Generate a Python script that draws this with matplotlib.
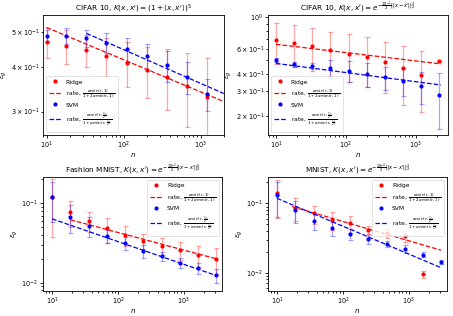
import numpy as np
import matplotlib
matplotlib.use("Agg")
import matplotlib.pyplot as plt

# sample sizes
n_cifar = [10, 18, 33, 60, 110, 200, 365, 665, 1210, 2200]
n_mnist = [10, 19, 36, 68, 128, 243, 460, 870, 1640, 3100]

# CIFAR 10, polynomial kernel
cp_ridge = [0.469, 0.458, 0.446, 0.429, 0.411, 0.392, 0.376, 0.354, 0.329]
cp_ridge_err = [0.046, 0.050, 0.045, 0.052, 0.060, 0.064, 0.072, 0.083, 0.094]
cp_svm = [0.490, 0.490, 0.481, 0.468, 0.448, 0.429, 0.404, 0.374, 0.335]
cp_svm_err = [0.018, 0.025, 0.026, 0.029, 0.035, 0.036, 0.040, 0.038, 0.034]
cp_rate_ridge_n, cp_rate_ridge = [10, 2000], [0.516, 0.320]
cp_rate_svm_n, cp_rate_svm = [33, 2000], [0.497, 0.337]

# CIFAR 10, gaussian kernel
cg_ridge = [0.692, 0.663, 0.631, 0.588, 0.554, 0.522, 0.481, 0.437, 0.394, 0.492]
cg_ridge_err = [0.225, 0.220, 0.210, 0.205, 0.205, 0.200, 0.190, 0.195, 0.180, 0.008]
cg_svm = [0.500, 0.466, 0.453, 0.437, 0.418, 0.398, 0.377, 0.357, 0.328, 0.283]
cg_svm_err = [0.020, 0.020, 0.020, 0.064, 0.070, 0.075, 0.070, 0.080, 0.085, 0.120]
cg_rate_ridge_n, cg_rate_ridge = [10, 2300], [0.645, 0.469]
cg_rate_svm_n, cg_rate_svm = [10, 2300], [0.473, 0.333]

# Fashion MNIST
fm_ridge = [0.121, 0.0787, 0.0602, 0.0487, 0.0402, 0.0338, 0.0293, 0.0256, 0.0226, 0.0201]
fm_ridge_err = [0.083, 0.029, 0.017, 0.0175, 0.011, 0.0076, 0.0072, 0.0065, 0.0067, 0.0073]
fm_svm = [0.121, 0.0681, 0.0521, 0.0391, 0.0316, 0.0254, 0.0215, 0.0178, 0.0154, 0.0125]
fm_svm_err = [0.063, 0.026, 0.0146, 0.0073, 0.0056, 0.0047, 0.0028, 0.0027, 0.0024, 0.0025]
fm_rate_ridge_n, fm_rate_ridge = [19, 3100], [0.062, 0.0200]
fm_rate_svm_n, fm_rate_svm = [10, 3100], [0.0637, 0.0123]

# MNIST
mn_ridge = [0.139, 0.0867, 0.072, 0.0578, 0.0518, 0.0416, 0.0373, 0.0334, 0.0095]
mn_ridge_err = [0.077, 0.031, 0.021, 0.0165, 0.014, 0.006, 0.0057, 0.006, 0.0011]
mn_svm = [0.134, 0.0804, 0.0565, 0.044, 0.0365, 0.0306, 0.026, 0.022, 0.0183, 0.0144]
mn_svm_err = [0.070, 0.029, 0.0155, 0.0107, 0.0065, 0.0048, 0.0023, 0.0028, 0.0014, 0.001]
mn_rate_ridge_n, mn_rate_ridge = [17, 3100], [0.0896, 0.0211]
mn_rate_svm_n, mn_rate_svm = [10, 3100], [0.118, 0.0118]

lab_ridge = r"rate, $\frac{\alpha\min(r,1)}{1+2\alpha\min(r,1)}$"
lab_svm = r"rate, $\frac{\alpha\min(r,\frac{1}{2})}{1+\alpha\min(r,\frac{1}{2})}$"

panels = [
    dict(pos=[0.095, 0.573, 0.399, 0.38], n=n_cifar,
         ridge=cp_ridge, ridge_err=cp_ridge_err, svm=cp_svm, svm_err=cp_svm_err,
         rr=(cp_rate_ridge_n, cp_rate_ridge), rs=(cp_rate_svm_n, cp_rate_svm),
         title=r"CIFAR 10, $K(x,x') = (1+\langle x,x'\rangle)^5$",
         xlim=(9.0, 2000), ylim=(0.258, 0.56), loc="lower left"),
    dict(pos=[0.5916, 0.573, 0.397, 0.38], n=n_cifar,
         ridge=cg_ridge, ridge_err=cg_ridge_err, svm=cg_svm, svm_err=cg_svm_err,
         rr=(cg_rate_ridge_n, cg_rate_ridge), rs=(cg_rate_svm_n, cg_rate_svm),
         title=r"CIFAR 10, $K(x,x') = e^{-\frac{10^{-1}}{2}||x-x'||_2^2}$",
         xlim=(7.7, 2900), ylim=(0.148, 1.04), loc="lower left"),
    dict(pos=[0.095, 0.08, 0.395, 0.36], n=n_mnist,
         ridge=fm_ridge, ridge_err=fm_ridge_err, svm=fm_svm, svm_err=fm_svm_err,
         rr=(fm_rate_ridge_n, fm_rate_ridge), rs=(fm_rate_svm_n, fm_rate_svm),
         title=r"Fashion MNIST, $K(x,x') = e^{-\frac{10^{-3}}{2}||x-x'||_2^2}$",
         xlim=(7.3, 3800), ylim=(0.0079, 0.215), loc="upper right"),
    dict(pos=[0.5916, 0.08, 0.395, 0.36], n=n_mnist,
         ridge=mn_ridge, ridge_err=mn_ridge_err, svm=mn_svm, svm_err=mn_svm_err,
         rr=(mn_rate_ridge_n, mn_rate_ridge), rs=(mn_rate_svm_n, mn_rate_svm),
         title=r"MNIST, $K(x,x') = e^{-\frac{10^{-4}}{2}||x-x'||_2^2}$",
         xlim=(7.3, 3800), ylim=(0.0055, 0.24), loc="upper right"),
]

fig = plt.figure(figsize=(4.53, 3.16), dpi=100)

for p in panels:
    ax = fig.add_axes(p["pos"])
    nr = p["n"][:len(p["ridge"])]
    ns = p["n"][:len(p["svm"])]
    ax.errorbar(nr, p["ridge"], yerr=p["ridge_err"], fmt="none", ecolor="r",
                alpha=0.35, capsize=1.8, elinewidth=0.9, capthick=0.9)
    ax.errorbar(ns, p["svm"], yerr=p["svm_err"], fmt="none", ecolor="b",
                alpha=0.35, capsize=1.8, elinewidth=0.9, capthick=0.9)
    ax.plot(nr, p["ridge"], "r.", ms=4, label="Ridge")
    ax.plot(p["rr"][0], p["rr"][1], "r--", lw=0.9, label=lab_ridge)
    ax.plot(ns, p["svm"], "b.", ms=4, label="SVM")
    ax.plot(p["rs"][0], p["rs"][1], "b--", lw=0.9, label=lab_svm)
    ax.set_xscale("log")
    ax.set_yscale("log")
    ax.set_xlim(*p["xlim"])
    ax.set_ylim(*p["ylim"])
    ax.set_title(p["title"], fontsize=5.3, pad=2.5)
    ax.set_xlabel("$n$", fontsize=5, labelpad=0)
    ax.set_ylabel(r"$\epsilon_g$", fontsize=5, labelpad=1)
    ax.tick_params(which="both", labelsize=4.7, pad=1.2, width=0.6)
    ax.tick_params(which="major", length=2.5)
    ax.tick_params(which="minor", length=1.3)
    for s in ax.spines.values():
        s.set_linewidth(0.6)
    leg = ax.legend(loc=p["loc"], fontsize=4.3, labelspacing=0.5,
                    handlelength=2.0, borderpad=0.5)
    leg.get_frame().set_linewidth(0.5)

fig.savefig("out.png", dpi=100)
